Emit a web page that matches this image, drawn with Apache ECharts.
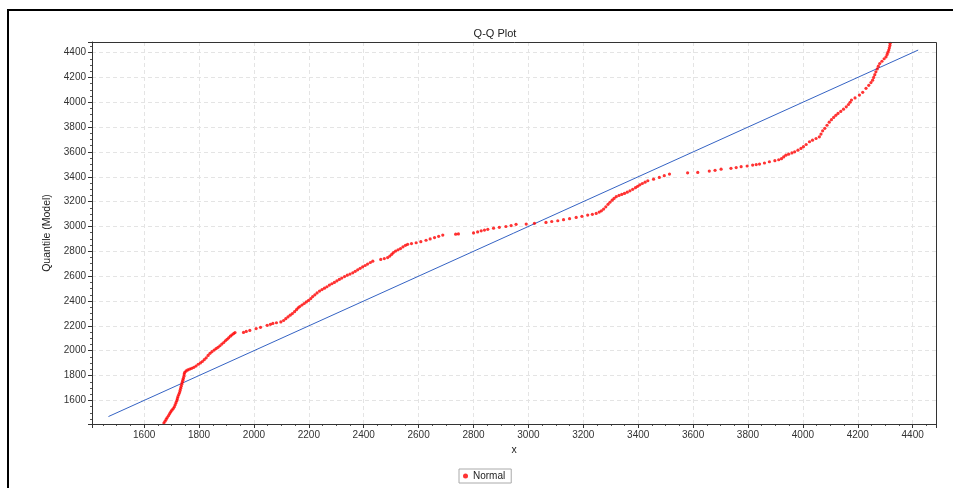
<!DOCTYPE html>
<html>
<head>
<meta charset="utf-8">
<title>Q-Q Plot</title>
<script src="https://cdn.jsdelivr.net/npm/echarts@6/dist/echarts.min.js"></script>
<style>
  html, body { margin: 0; padding: 0; background: #ffffff; }
  #chart { width: 953px; height: 488px; }
</style>
</head>
<body>
<div id="chart"></div>
<script>
// Sorted sample values (x) and the matching model quantiles (y)
const sampleX = [
  1672, 1676, 1680, 1684, 1689, 1693, 1697, 1701, 1706, 1710,
  1713, 1716, 1719, 1721, 1723, 1726, 1729, 1731, 1733, 1735,
  1737, 1739, 1741, 1743, 1745, 1746, 1748, 1753, 1759, 1766,
  1773, 1781, 1789, 1797, 1805, 1812, 1819, 1826, 1833, 1840,
  1847, 1855, 1862, 1869, 1876, 1883, 1890, 1896, 1902, 1908,
  1914, 1920, 1926, 1931,
  1962, 1972, 1985, 2008, 2024, 2048, 2060, 2069, 2082, 2098,
  2108, 2116, 2124, 2132, 2140, 2148, 2155, 2161, 2167, 2175,
  2183, 2191, 2199, 2207, 2214, 2222, 2230, 2239, 2248, 2257,
  2266, 2275, 2284, 2293, 2302, 2311, 2320, 2330, 2340, 2350,
  2360, 2369, 2378, 2387, 2396, 2405, 2414, 2424, 2433,
  2462, 2475, 2487, 2495, 2502, 2508, 2516, 2525, 2534, 2543,
  2552, 2560, 2574, 2591, 2608, 2627, 2642, 2658, 2673, 2688,
  2735, 2745, 2800, 2815, 2828, 2840, 2852, 2873, 2894, 2918,
  2937, 2955, 2992, 3022, 3064, 3085, 3107, 3128, 3150, 3174,
  3195, 3216, 3233, 3247, 3258, 3266, 3274, 3282, 3290, 3297,
  3305, 3312, 3320, 3330, 3340, 3350, 3360, 3370, 3380, 3390,
  3398, 3406, 3415, 3425, 3435, 3456, 3477, 3495, 3514,
  3580, 3617, 3659, 3680, 3702, 3738, 3757, 3775, 3797, 3817,
  3830, 3842, 3860, 3878, 3898, 3912, 3922, 3930, 3938, 3948,
  3960, 3970, 3982, 3993, 4002, 4012, 4024, 4035, 4048, 4060,
  4066, 4072, 4080, 4088, 4096, 4104, 4112, 4120, 4128, 4138,
  4148, 4158, 4166, 4172, 4177, 4190, 4206, 4218, 4230, 4240,
  4248, 4254, 4258, 4262, 4266, 4271, 4275, 4280, 4288, 4296,
  4303, 4307, 4310, 4313, 4315, 4317, 4318
];
const modelY = [
  1418, 1432, 1447, 1462, 1478, 1494, 1508, 1521, 1534, 1548,
  1565, 1582, 1598, 1614, 1630, 1647, 1663, 1680, 1697, 1713,
  1730, 1747, 1763, 1778, 1795, 1812, 1826, 1837, 1845, 1852,
  1858, 1866, 1877, 1891, 1902, 1913, 1928, 1943, 1962, 1979,
  1992, 2005, 2016, 2027, 2040, 2053, 2066, 2080, 2092, 2104,
  2117, 2128, 2138, 2146,
  2147, 2155, 2163, 2178, 2188, 2204, 2212, 2220, 2225, 2232,
  2243, 2258, 2272, 2286, 2299, 2314, 2330, 2344, 2356, 2368,
  2380, 2393, 2405, 2420, 2436, 2450, 2465, 2480, 2492, 2503,
  2515, 2528, 2539, 2550, 2562, 2574, 2585, 2597, 2608, 2617,
  2627, 2639, 2651, 2663, 2675, 2686, 2697, 2710, 2721,
  2735, 2742, 2750, 2762, 2776, 2790, 2802, 2812, 2822, 2836,
  2848, 2856, 2862, 2869, 2878, 2889, 2900, 2911, 2921, 2931,
  2938, 2940, 2948, 2956, 2965, 2971, 2977, 2986, 2993, 3000,
  3007, 3017, 3019, 3025, 3033, 3040, 3046, 3055, 3063, 3073,
  3082, 3092, 3098, 3105, 3116, 3126, 3140, 3158, 3178, 3195,
  3212, 3226, 3240, 3250, 3258, 3266, 3276, 3287, 3299, 3312,
  3323, 3335, 3346, 3357, 3368, 3381, 3395, 3409, 3422,
  3432, 3435, 3446, 3452, 3461, 3468, 3474, 3481, 3487, 3494,
  3498, 3502, 3511, 3521, 3530, 3537, 3546, 3560, 3574, 3582,
  3592, 3601, 3614, 3628, 3642, 3660, 3682, 3695, 3708, 3722,
  3744, 3770, 3790, 3815, 3840, 3860, 3878, 3895, 3910, 3926,
  3944, 3963, 3982, 4000, 4018, 4035, 4058, 4080, 4112, 4136,
  4158, 4178, 4200, 4222, 4245, 4268, 4290, 4312, 4330, 4350,
  4366, 4385, 4403, 4420, 4438, 4456, 4474
];

// Reference line end points (x = y)
const refX = [1470, 4420];
const refY = [1470, 4420];

// Shared axis range for both quantile axes
const axisMin = 1410;
const axisMax = 4485;

const seriesName = 'Normal';
const titleText = 'Q-Q Plot';
const xName = 'x';
const yName = 'Quantile (Model)';

const points = sampleX.map((v, i) => [v, modelY[i]]);
const refLine = refX.map((v, i) => [v, refY[i]]);

const FONT = 'Liberation Sans, Arial, sans-serif';

// Plot box in pixels (kept in sync with the grid below)
const PLOT = { left: 92, top: 42, right: 936, bottom: 424 };

function quantileAxis(name, nameGap) {
  return {
    type: 'value',
    min: axisMin,
    max: axisMax,
    splitNumber: 15,
    name: name,
    nameLocation: 'middle',
    nameGap: nameGap,
    nameTextStyle: { color: '#222', fontSize: 10.5, fontFamily: FONT },
    axisLine: { show: true, lineStyle: { color: '#222', width: 1 } },
    axisTick: { show: true, inside: false, length: 4, lineStyle: { color: '#333' } },
    minorTick: { show: true, splitNumber: 4, length: 2, lineStyle: { color: '#555' } },
    axisLabel: {
      color: '#333', fontSize: 10, fontFamily: FONT, margin: 6,
      showMinLabel: false, showMaxLabel: false,
      formatter: (v) => String(v)
    },
    splitLine: { show: true, lineStyle: { color: '#e4e4e4', type: [4, 3], width: 1 } },
    minorSplitLine: { show: false }
  };
}

const chart = echarts.init(document.getElementById('chart'), null, { renderer: 'canvas' });

chart.setOption({
  animation: false,
  backgroundColor: '#ffffff',
  title: {
    text: titleText,
    left: 490,
    top: 23,
    textAlign: 'center',
    textStyle: { color: '#222', fontSize: 11, fontWeight: 'normal', fontFamily: FONT }
  },
  grid: {
    left: PLOT.left, top: PLOT.top, right: 953 - PLOT.right, bottom: 488 - PLOT.bottom,
    show: true, borderColor: '#444', borderWidth: 0, backgroundColor: '#ffffff'
  },
  legend: {
    data: [seriesName],
    left: 459,
    top: 469,
    orient: 'horizontal',
    padding: [2, 6, 2, 4],
    borderColor: '#aaa',
    borderWidth: 1,
    itemWidth: 5,
    itemHeight: 5,
    itemGap: 4,
    icon: 'circle',
    textStyle: { color: '#222', fontSize: 10, fontFamily: FONT, padding: [0, 0, 0, 0] }
  },
  xAxis: quantileAxis(xName, 12),
  yAxis: quantileAxis(yName, 38),
  graphic: [
    {
      // plot frame
      type: 'rect',
      silent: true,
      shape: {
        x: PLOT.left + 0.5, y: PLOT.top + 0.5,
        width: PLOT.right - PLOT.left, height: PLOT.bottom - PLOT.top
      },
      style: { fill: 'none', stroke: '#333', lineWidth: 1 },
      z: 50
    },
    {
      // outer frame of the panel
      type: 'rect',
      silent: true,
      shape: { x: 8, y: 10, width: 1200, height: 800 },
      style: { fill: 'none', stroke: '#000', lineWidth: 2 },
      z: 100
    }
  ],
  series: [
    {
      name: 'reference',
      type: 'line',
      data: refLine,
      symbol: 'none',
      lineStyle: { color: '#3563c4', width: 1 },
      silent: true,
      z: 2
    },
    {
      name: seriesName,
      type: 'scatter',
      data: points,
      symbol: 'circle',
      symbolSize: 3.2,
      itemStyle: { color: '#ff0000' },
      z: 3
    }
  ]
});
</script>
</body>
</html>
